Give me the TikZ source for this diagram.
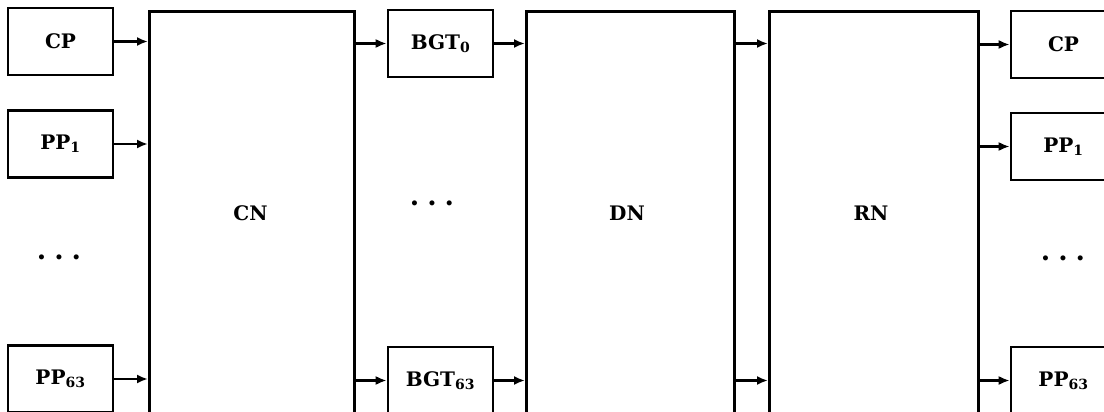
\documentclass[tikz,border=0pt]{standalone}
\usepackage{fontspec}
\setmainfont{DejaVu Serif}
\usetikzlibrary{arrows.meta}
\newcommand{\subs}[1]{\textsubscript{#1}}
\begin{document}
\begin{tikzpicture}[x=1pt,y=-1pt,
  box/.style={draw=black, line width=2.6pt, fill=none, inner sep=0pt, font=\fontsize{20}{22}\selectfont\bfseries},
  smallbox/.style={box, minimum width=105pt, minimum height=67pt},
  bigbox/.style={box, minimum width=#1, minimum height=420pt},
  lbl/.style={font=\fontsize{20}{22}\selectfont\bfseries, inner sep=0pt},
  dotsn/.style={font=\fontsize{27}{29}\selectfont\bfseries, inner sep=0pt},
  conn/.style={line width=2.2pt, -{Latex[length=11pt,width=9pt]}}]
\clip (0,0) rectangle (1104,412);
\fill[white] (0,0) rectangle (1104,412);
% left boxes
\node[smallbox] (lCP) at (60.5,41.5) {CP};
\node[smallbox] (lPP1) at (60.5,144) {PP\subs{1}};
\node[dotsn] (ldots) at (59,257) {.\hspace{8pt}.\hspace{8pt}.};
\node[smallbox] (lPP63) at (60.5,379) {PP\subs{63}};
% big boxes
\node[bigbox=205pt, anchor=north west] (CN) at (148,10) {};
\node[lbl] (CNl) at (250.5,213) {CN};
\node[bigbox=208pt, anchor=north west] (DN) at (525,10) {};
\node[lbl] (DNl) at (627,213) {DN};
\node[bigbox=209pt, anchor=north west] (RN) at (768,10) {};
\node[lbl] (RNl) at (871,213) {RN};
% middle boxes
\node[smallbox] (BGT0) at (440.5,43.5) {BGT\subs{0}};
\node[dotsn] (mdots) at (432,203) {.\hspace{8pt}.\hspace{8pt}.};
\node[smallbox] (BGT63) at (440.5,380.5) {BGT\subs{63}};
% right boxes
\node[smallbox] (rCP) at (1063.5,44.5) {CP};
\node[smallbox] (rPP1) at (1063.5,146.5) {PP\subs{1}};
\node[dotsn] (rdots) at (1063,258) {.\hspace{8pt}.\hspace{8pt}.};
\node[smallbox] (rPP63) at (1063.5,380.5) {PP\subs{63}};
% connectors
\draw[conn] (lCP.east) -- (lCP.east -| CN.west);
\draw[conn] (lPP1.east) -- (lPP1.east -| CN.west);
\draw[conn] (lPP63.east) -- (lPP63.east -| CN.west);
\draw[conn] (CN.east |- BGT0.west) -- (BGT0.west);
\draw[conn] (CN.east |- BGT63.west) -- (BGT63.west);
\draw[conn] (BGT0.east) -- (BGT0.east -| DN.west);
\draw[conn] (BGT63.east) -- (BGT63.east -| DN.west);
\draw[conn] (DN.east |- BGT0.east) -- (RN.west |- BGT0.east);
\draw[conn] (DN.east |- BGT63.east) -- (RN.west |- BGT63.east);
\draw[conn] (RN.east |- rCP.west) -- (rCP.west);
\draw[conn] (RN.east |- rPP1.west) -- (rPP1.west);
\draw[conn] (RN.east |- rPP63.west) -- (rPP63.west);
\end{tikzpicture}
\end{document}
